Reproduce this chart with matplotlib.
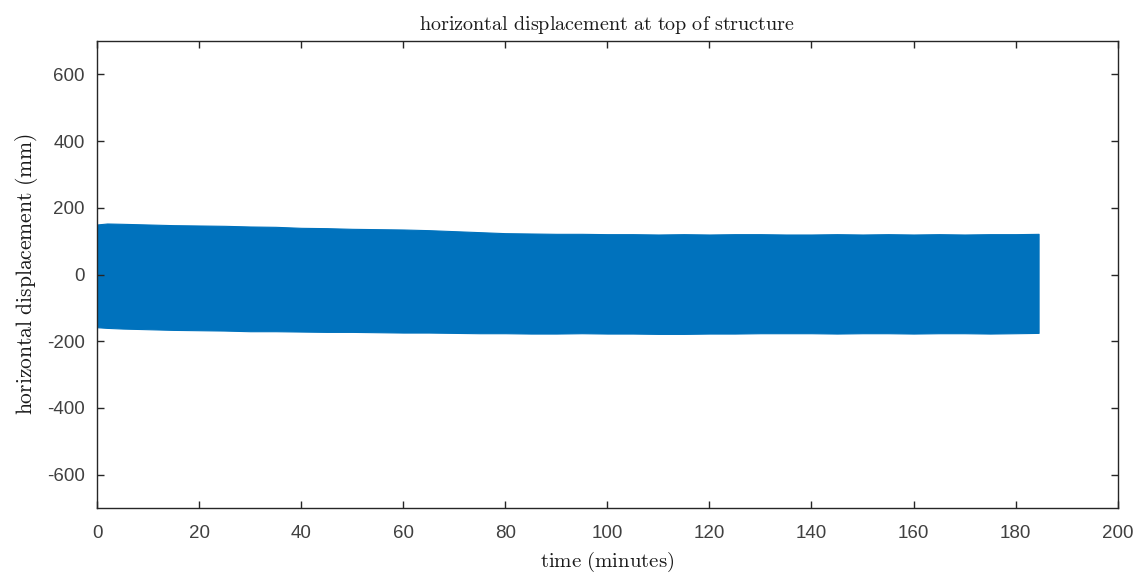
import matplotlib
matplotlib.use("Agg")
import matplotlib.pyplot as plt

# envelope of the oscillating signal (minutes, mm)
t = [0, 2, 5, 10, 15, 20, 25, 30, 35, 40, 45, 50, 55, 60, 65, 70, 75, 80, 85, 90,
     95, 100, 105, 110, 115, 120, 125, 130, 135, 140, 145, 150, 155, 160, 165,
     170, 175, 180, 184.5]
upper = [150, 153, 152, 150, 148, 147, 146, 144, 143, 140, 139, 137, 136, 135, 133,
         130, 127, 124, 123, 122, 122, 121, 121, 120, 121, 120, 121, 121, 120, 120,
         121, 120, 121, 120, 121, 120, 121, 121, 122]
lower = [-158, -160, -162, -164, -166, -167, -168, -170, -170, -171, -172, -172,
         -173, -174, -174, -175, -176, -176, -177, -177, -176, -177, -177, -178,
         -178, -177, -177, -176, -176, -176, -177, -176, -176, -177, -176, -176,
         -177, -176, -175]

xticks = [0, 20, 40, 60, 80, 100, 120, 140, 160, 180, 200]
yticks = [-600, -400, -200, 0, 200, 400, 600]

plt.rcParams['mathtext.fontset'] = 'cm'
plt.rcParams['axes.unicode_minus'] = False

fig = plt.figure(figsize=(11.44, 5.73), dpi=100)
ax = fig.add_axes([0.0848, 0.1134, 0.8922, 0.815])

ax.fill_between(t, lower, upper, color='#0072BD', linewidth=0.8, edgecolor='#0072BD')

ax.set_xlim(0, 200)
ax.set_ylim(-700, 700)
ax.set_xticks(xticks)
ax.set_yticks(yticks)
ax.tick_params(direction='in', top=True, right=True, length=5, width=1,
               labelsize=13.5, labelcolor='#404040', color='#262626')
ax.tick_params(axis='x', pad=12)
ax.tick_params(axis='y', pad=9)
for lab in ax.get_xticklabels() + ax.get_yticklabels():
    lab.set_family('Liberation Sans')
for s in ax.spines.values():
    s.set_color('#262626')
    s.set_linewidth(1)

ax.set_title(r'$\mathrm{horizontal\ displacement\ at\ top\ of\ structure}$',
             fontsize=14.5, color='#1a1a1a', pad=8)
ax.set_xlabel(r'$\mathrm{time\ (minutes)}$', fontsize=15, color='#1a1a1a', labelpad=6)
ax.set_ylabel(r'$\mathrm{horizontal\ displacement\ (mm)}$', fontsize=15.5,
              color='#1a1a1a', labelpad=5)

fig.savefig('out.png', dpi=100, facecolor='white')
